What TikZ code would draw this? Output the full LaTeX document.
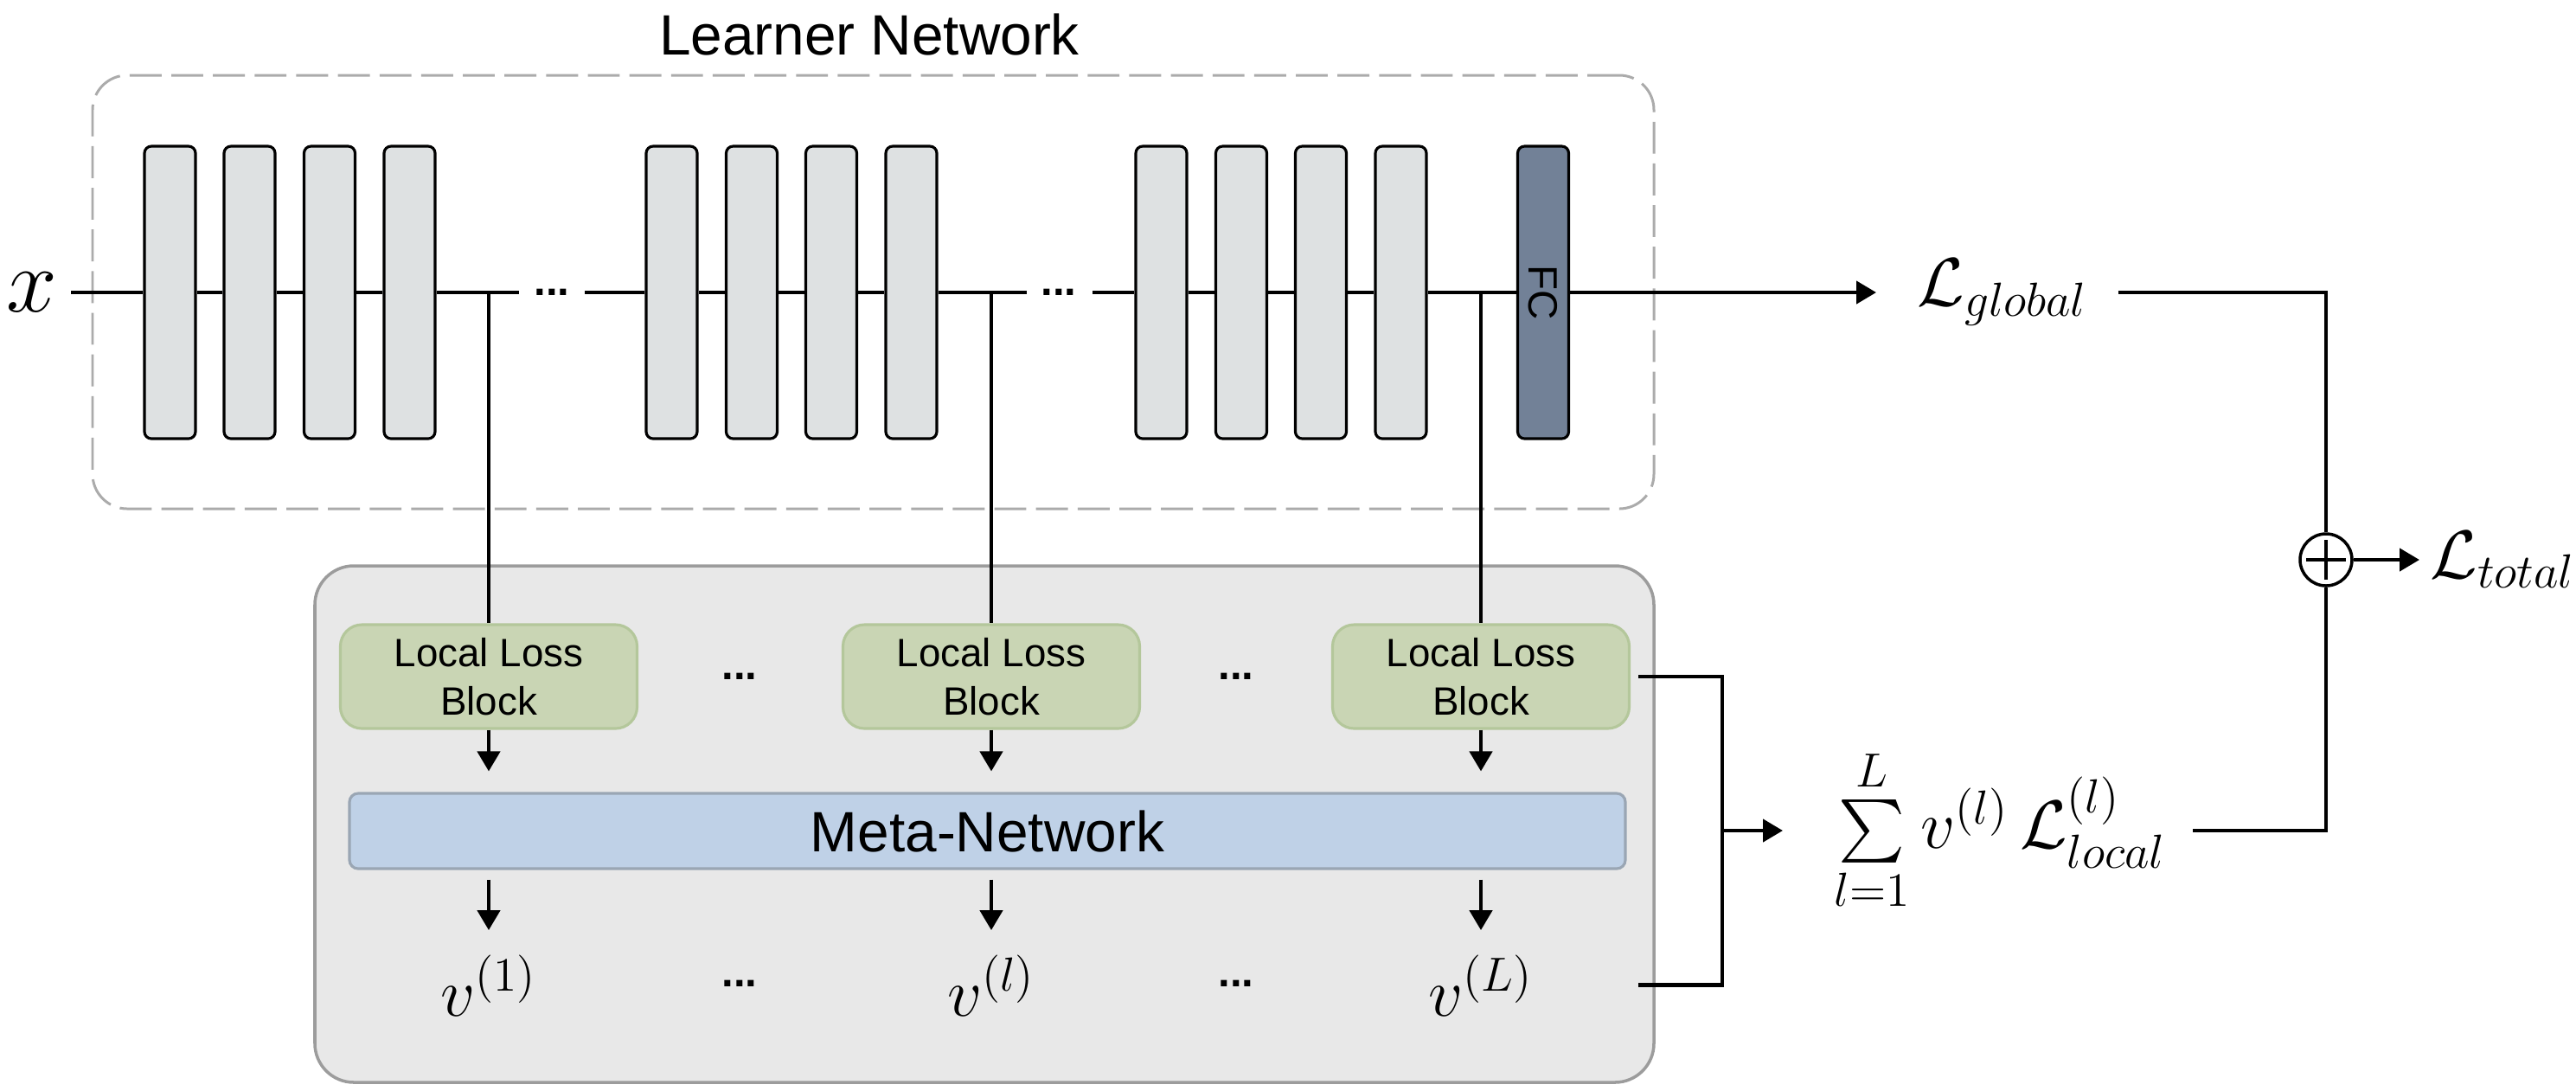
\RequirePackage{fix-cm}
\documentclass[tikz,border=0pt]{standalone}
\usepackage{amsmath}
\usepackage{fontspec}
\newfontfamily\arialfont{Liberation Sans}
\usetikzlibrary{arrows.meta,positioning}

\definecolor{barfill}{HTML}{DEE1E2}
\definecolor{fcfill}{HTML}{728197}
\definecolor{llfill}{HTML}{C9D5B4}
\definecolor{lldraw}{HTML}{B4C79B}
\definecolor{mnfill}{HTML}{BFD1E7}
\definecolor{mndraw}{HTML}{9AA6B4}
\definecolor{boxfill}{HTML}{E8E8E8}
\definecolor{boxdraw}{HTML}{9C9C9C}
\definecolor{dashdraw}{HTML}{ABABAB}

\begin{document}
\begin{tikzpicture}[
  bar/.style={draw, line width=0.9pt, fill=barfill, rounded corners=0.08cm, minimum width=0.59cm, minimum height=3.38cm, inner sep=0pt},
  fcbar/.style={bar, fill=fcfill, rotate=-90, minimum width=3.38cm, minimum height=0.59cm, font=\arialfont\fontsize{13.5}{16}\selectfont},
  lossblock/.style={draw=lldraw, line width=0.9pt, fill=llfill, rounded corners=0.25cm, minimum width=3.43cm, minimum height=1.2cm, inner sep=0pt, align=center, font=\arialfont\fontsize{13}{16}\selectfont},
  metanet/.style={draw=mndraw, line width=0.9pt, fill=mnfill, rounded corners=0.1cm, minimum width=14.75cm, minimum height=0.87cm, inner sep=0pt, font=\arialfont\fontsize{18.7}{22}\selectfont},
  learnerbox/.style={draw=dashdraw, line width=0.85pt, dash pattern=on 10.5pt off 3.2pt, rounded corners=0.4cm, minimum width=18.05cm, minimum height=5.01cm, inner sep=0pt},
  metabox/.style={draw=boxdraw, line width=1pt, fill=boxfill, rounded corners=0.45cm, minimum width=15.48cm, minimum height=5.97cm, inner sep=0pt},
  title/.style={font=\arialfont\fontsize{18.7}{22}\selectfont, inner sep=0pt},
  dotrow/.style={font=\arialfont\bfseries\fontsize{14}{14}\selectfont, inner sep=0pt, anchor=base},
  lbl/.style={inner sep=0pt, font=\fontsize{22.5}{26}\selectfont},
  adder/.style={circle, draw, line width=1pt, minimum size=0.6cm, inner sep=0pt,
    path picture={\draw[line width=1.4pt] (path picture bounding box.center) ++(-0.23,0) -- ++(0.46,0)
      (path picture bounding box.center) ++(0,-0.23) -- ++(0,0.46);}},
  wire/.style={line width=1.25pt},
  arr/.style={wire, -{Triangle[length=0.23cm, width=0.26cm]}},
]
  \useasboundingbox (0,0) rectangle (29.78,-12.60);

  \node[learnerbox] (learner) at (10.095,-3.375) {};
  \node[metabox] (mbox) at (11.38,-9.525) {};
  \node[title, anchor=base] (ltitle) at (10.05,-0.63) {Learner Network};

  \node[lbl, font=\fontsize{30}{34}\selectfont] (x) at (0.37,-3.38) {$x$};
  \node[bar] (b1) at (1.965,-3.38) {};
  \node[bar] (b2) at (2.885,-3.38) {};
  \node[bar] (b3) at (3.81,-3.38) {};
  \node[bar] (b4) at (4.735,-3.38) {};
  \node[bar] (b5) at (7.765,-3.38) {};
  \node[bar] (b6) at (8.69,-3.38) {};
  \node[bar] (b7) at (9.61,-3.38) {};
  \node[bar] (b8) at (10.535,-3.38) {};
  \node[bar] (b9) at (13.425,-3.38) {};
  \node[bar] (b10) at (14.35,-3.38) {};
  \node[bar] (b11) at (15.27,-3.38) {};
  \node[bar] (b12) at (16.195,-3.38) {};
  \node[fcbar] (fc) at (17.84,-3.38) {FC};

  \coordinate (gap1) at (6.00,-3.38);
  \coordinate (gap2) at (6.76,-3.38);
  \coordinate (gap3) at (11.87,-3.38);
  \coordinate (gap4) at (12.63,-3.38);
  \coordinate (t1) at (5.65,-3.38);
  \coordinate (t2) at (11.46,-3.38);
  \coordinate (t3) at (17.12,-3.38);
  \node[dotrow] (dt1) at (6.38,-3.415) {...};
  \node[dotrow] (dt2) at (12.24,-3.415) {...};

  \node[lossblock] (lb1) at (5.65,-7.82) {Local Loss\\Block};
  \node[lossblock] (lb2) at (11.46,-7.82) {Local Loss\\Block};
  \node[lossblock] (lb3) at (17.12,-7.82) {Local Loss\\Block};
  \node[dotrow] (dt3) at (8.55,-7.855) {...};
  \node[dotrow] (dt4) at (14.29,-7.855) {...};

  \node[metanet] (meta) at (11.415,-9.605) {Meta-Network};

  \node[lbl, anchor=base] (v1) at (5.65,-11.74) {$v^{(1)}$};
  \node[lbl, anchor=base] (v2) at (11.46,-11.74) {$v^{(l)}$};
  \node[lbl, anchor=base] (v3) at (17.12,-11.74) {$v^{(L)}$};
  \node[dotrow] (dt5) at (8.55,-11.405) {...};
  \node[dotrow] (dt6) at (14.29,-11.405) {...};

  \coordinate (brk) at (19.91,-9.60);
  \node[lbl, anchor=west] (sum) at (21.20,-9.60) {$\sum\limits_{l=1}^{L} v^{(l)}\,\mathcal{L}_{local}^{(l)}$};
  \node[lbl, anchor=west] (lg) at (22.16,-3.38) {$\mathcal{L}_{global}$};
  \node[adder] (add) at (26.89,-6.47) {};
  \node[lbl, anchor=west] (lt) at (28.09,-6.47) {$\mathcal{L}_{total}$};

  \path[wire]
  (x) edge[shorten <=0.15cm] (b1)
  (b1) edge (b2) (b2) edge (b3) (b3) edge (b4) (b4) edge (gap1)
  (gap2) edge (b5) (b5) edge (b6) (b6) edge (b7) (b7) edge (b8) (b8) edge (gap3)
  (gap4) edge (b9) (b9) edge (b10) (b10) edge (b11) (b11) edge (b12) (b12) edge (fc)
  (t1) edge (lb1) (t2) edge (lb2) (t3) edge (lb3)
  ;
  \path[arr]
  (lb1) edge[shorten >=0.24cm] (lb1 |- meta.north)
  (lb2) edge[shorten >=0.24cm] (lb2 |- meta.north)
  (lb3) edge[shorten >=0.24cm] (lb3 |- meta.north)
  (meta.south -| v1) edge[shorten <=0.11cm, shorten >=0.28cm] (v1)
  (meta.south -| v2) edge[shorten <=0.11cm, shorten >=0.28cm] (v2)
  (meta.south -| v3) edge[shorten <=0.11cm, shorten >=0.28cm] (v3)
  (fc) edge[shorten >=0.47cm] (lg)
  (brk) edge[shorten >=0.59cm] (sum)
  (add) edge[shorten >=0.12cm] (lt)
  ;
  \draw[wire, shorten <=0.35cm] (lg) -| (add);
  \draw[wire, shorten <=0.30cm] (sum) -| (add);
  \draw[wire, line width=1.4pt, shorten <=0.09cm, shorten >=0.09cm] (lb3) -| (brk) |- (lb3.east |- v3);
\end{tikzpicture}
\end{document}
